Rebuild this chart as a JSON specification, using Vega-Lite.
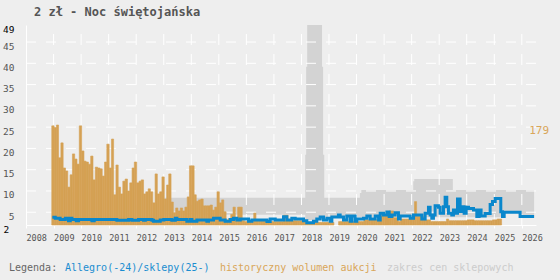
{
  "$schema": "https://vega.github.io/schema/vega-lite/v6.json",
  "width": 510,
  "height": 200,
  "autosize": {"type": "none"},
  "padding": {"left": 26, "top": 25, "right": 24, "bottom": 55},
  "background": "#eeeeee",
  "config": {"view": {"stroke": null}, "font": "DejaVu Sans Mono"},
  "title": {"text": "2 zł - Noc świętojańska", "anchor": "start", "frame": "group", "font": "DejaVu Sans Mono", "fontSize": 12, "fontWeight": "bold", "color": "#555555", "dx": 8, "offset": -4, "baseline": "alphabetic"},
  "resolve": {"axis": {"x": "independent", "y": "independent"}},
  "datasets": {
    "range": [
      {"d": "2012-12-10", "lo": 4.4, "hi": 8.4},
      {"d": "2018-02-20", "lo": 3.2, "hi": 18.5},
      {"d": "2018-03-04", "lo": 3.2, "hi": 39.2},
      {"d": "2018-03-18", "lo": 3.2, "hi": 49},
      {"d": "2018-10-01", "lo": 3.2, "hi": 39.2},
      {"d": "2018-10-15", "lo": 3.2, "hi": 18.5},
      {"d": "2018-10-30", "lo": 3.8, "hi": 8.4},
      {"d": "2020-02-15", "lo": 3.8, "hi": 9.5},
      {"d": "2020-03-05", "lo": 3.8, "hi": 10.2},
      {"d": "2022-01-22", "lo": 3.8, "hi": 12.3},
      {"d": "2022-02-05", "lo": 3.8, "hi": 12.8},
      {"d": "2023-07-01", "lo": 3.8, "hi": 10.2},
      {"d": "2025-03-28", "lo": 4.0, "hi": 10.2},
      {"d": "2025-05-12", "lo": 5.0, "hi": 10.2},
      {"d": "2025-12-09", "lo": 4.0, "hi": 10.2},
      {"d": "2026-06-13", "lo": 4.0, "hi": 10.2}
    ],
    "hgrid": [{"v": 5}, {"v": 10}, {"v": 15}, {"v": 20}, {"v": 25}, {"v": 30}, {"v": 35}, {"v": 40}, {"v": 45}],
    "vgrid": [{"d": "2009-01-01"}, {"d": "2010-01-01"}, {"d": "2011-01-01"}, {"d": "2012-01-01"}, {"d": "2013-01-01"}, {"d": "2014-01-01"}, {"d": "2015-01-01"}, {"d": "2016-01-01"}, {"d": "2017-01-01"}, {"d": "2018-01-01"}, {"d": "2019-01-01"}, {"d": "2020-01-01"}, {"d": "2021-01-01"}, {"d": "2022-01-01"}, {"d": "2023-01-01"}, {"d": "2024-01-01"}, {"d": "2025-01-01"}, {"d": "2026-01-01"}],
    "volume": [
      {"d": "2008-12-01", "v": 25.3}, {"d": "2009-01-01", "v": 24.9}, {"d": "2009-02-01", "v": 25.5}, {"d": "2009-03-01", "v": 17.8},
      {"d": "2009-04-01", "v": 21.3}, {"d": "2009-05-01", "v": 15.4}, {"d": "2009-06-01", "v": 14.7}, {"d": "2009-07-01", "v": 10.9},
      {"d": "2009-08-01", "v": 13.8}, {"d": "2009-09-01", "v": 18.7}, {"d": "2009-10-01", "v": 17.5}, {"d": "2009-11-01", "v": 16.3},
      {"d": "2009-12-01", "v": 25.3}, {"d": "2010-01-01", "v": 19.4}, {"d": "2010-02-01", "v": 17.0}, {"d": "2010-03-01", "v": 16.8},
      {"d": "2010-04-01", "v": 16.3}, {"d": "2010-05-01", "v": 18.2}, {"d": "2010-06-01", "v": 12.6}, {"d": "2010-07-01", "v": 15.6},
      {"d": "2010-08-01", "v": 15.4}, {"d": "2010-09-01", "v": 15.2}, {"d": "2010-10-01", "v": 13.5}, {"d": "2010-11-01", "v": 16.8},
      {"d": "2010-12-01", "v": 21.0}, {"d": "2011-01-01", "v": 15.4}, {"d": "2011-02-01", "v": 22.2}, {"d": "2011-03-01", "v": 9.1},
      {"d": "2011-04-01", "v": 16.1}, {"d": "2011-05-01", "v": 10.9}, {"d": "2011-06-01", "v": 9.3}, {"d": "2011-07-01", "v": 12.3},
      {"d": "2011-08-01", "v": 12.8}, {"d": "2011-09-01", "v": 10.0}, {"d": "2011-10-01", "v": 11.9}, {"d": "2011-11-01", "v": 15.4},
      {"d": "2011-12-01", "v": 16.8}, {"d": "2012-01-01", "v": 11.9}, {"d": "2012-02-01", "v": 12.3}, {"d": "2012-03-01", "v": 12.6},
      {"d": "2012-04-01", "v": 9.3}, {"d": "2012-05-01", "v": 9.8}, {"d": "2012-06-01", "v": 10.5}, {"d": "2012-07-01", "v": 9.8},
      {"d": "2012-08-01", "v": 7.2}, {"d": "2012-09-01", "v": 14.0}, {"d": "2012-10-01", "v": 9.3}, {"d": "2012-11-01", "v": 9.8},
      {"d": "2012-12-01", "v": 13.3}, {"d": "2013-01-01", "v": 8.1}, {"d": "2013-02-01", "v": 11.4}, {"d": "2013-03-01", "v": 14.0},
      {"d": "2013-04-01", "v": 7.4}, {"d": "2013-05-01", "v": 4.9}, {"d": "2013-06-01", "v": 6.0}, {"d": "2013-07-01", "v": 5.3},
      {"d": "2013-08-01", "v": 6.0}, {"d": "2013-09-01", "v": 5.3}, {"d": "2013-10-01", "v": 6.2}, {"d": "2013-11-01", "v": 8.6},
      {"d": "2013-12-01", "v": 15.9}, {"d": "2014-01-01", "v": 15.9}, {"d": "2014-02-01", "v": 9.1}, {"d": "2014-03-01", "v": 7.6},
      {"d": "2014-04-01", "v": 7.9}, {"d": "2014-05-01", "v": 8.1}, {"d": "2014-06-01", "v": 6.5}, {"d": "2014-07-01", "v": 6.5},
      {"d": "2014-08-01", "v": 6.5}, {"d": "2014-09-01", "v": 6.7}, {"d": "2014-10-01", "v": 5.5}, {"d": "2014-11-01", "v": 6.2},
      {"d": "2014-12-01", "v": 9.8}, {"d": "2015-01-01", "v": 7.2}, {"d": "2015-02-01", "v": 7.9}, {"d": "2015-03-01", "v": 5.1},
      {"d": "2015-04-01", "v": 3.2}, {"d": "2015-05-01", "v": 3.5}, {"d": "2015-06-01", "v": 4.5}, {"d": "2015-07-01", "v": 6.2},
      {"d": "2015-08-01", "v": 3.2}, {"d": "2015-09-01", "v": 6.2}, {"d": "2015-10-01", "v": 6.2}, {"d": "2015-11-01", "v": 3.0},
      {"d": "2015-12-01", "v": 2.8}, {"d": "2016-01-01", "v": 2.8}, {"d": "2016-02-01", "v": 2.8}, {"d": "2016-03-01", "v": 2.8},
      {"d": "2016-04-01", "v": 4.8}, {"d": "2016-05-01", "v": 3.0}, {"d": "2016-06-01", "v": 3.0}, {"d": "2016-07-01", "v": 3.0},
      {"d": "2016-08-01", "v": 3.0}, {"d": "2016-09-01", "v": 3.0}, {"d": "2016-10-01", "v": 2.8}, {"d": "2016-11-01", "v": 2.8},
      {"d": "2016-12-01", "v": 2.8}, {"d": "2017-01-01", "v": 2.8}, {"d": "2017-02-01", "v": 2.8}, {"d": "2017-03-01", "v": 2.8},
      {"d": "2017-04-01", "v": 2.8}, {"d": "2017-05-01", "v": 4.3}, {"d": "2017-06-01", "v": 4.3}, {"d": "2017-07-01", "v": 3.0},
      {"d": "2017-08-01", "v": 3.0}, {"d": "2017-09-01", "v": 3.0}, {"d": "2017-10-01", "v": 3.0}, {"d": "2017-11-01", "v": 3.0},
      {"d": "2017-12-01", "v": 3.0}, {"d": "2018-01-01", "v": 3.0}, {"d": "2018-02-01", "v": 3.0}, {"d": "2018-03-01", "v": 2.6},
      {"d": "2018-04-01", "v": 2.6}, {"d": "2018-05-01", "v": 2.6}, {"d": "2018-06-01", "v": 2.6}, {"d": "2018-07-01", "v": 2.6},
      {"d": "2018-08-01", "v": 2.6}, {"d": "2018-09-01", "v": 2.6}, {"d": "2018-10-01", "v": 2.6}, {"d": "2018-11-01", "v": 2.6},
      {"d": "2018-12-01", "v": 2.6}, {"d": "2019-01-01", "v": 2.6}, {"d": "2019-02-01", "v": 2.6},
      {"d": "2019-05-01", "v": 2.8}, {"d": "2019-06-01", "v": 2.8}, {"d": "2019-07-01", "v": 2.8}, {"d": "2019-08-01", "v": 2.8},
      {"d": "2019-09-01", "v": 2.8}, {"d": "2019-10-01", "v": 2.8}, {"d": "2019-11-01", "v": 2.8}, {"d": "2019-12-01", "v": 2.8},
      {"d": "2020-01-01", "v": 2.8}, {"d": "2020-02-01", "v": 2.8}, {"d": "2020-03-01", "v": 2.8}, {"d": "2020-04-01", "v": 3.2},
      {"d": "2020-05-01", "v": 3.2}, {"d": "2020-06-01", "v": 3.2}, {"d": "2020-07-01", "v": 3.2}, {"d": "2020-08-01", "v": 3.2},
      {"d": "2020-09-01", "v": 3.2}, {"d": "2020-10-01", "v": 3.2}, {"d": "2020-11-01", "v": 4.2}, {"d": "2020-12-01", "v": 4.2},
      {"d": "2021-01-01", "v": 4.2}, {"d": "2021-02-01", "v": 4.2}, {"d": "2021-03-01", "v": 5.3}, {"d": "2021-04-01", "v": 5.3},
      {"d": "2021-05-01", "v": 3.7}, {"d": "2021-06-01", "v": 3.7}, {"d": "2021-07-01", "v": 2.8}, {"d": "2021-08-01", "v": 3.4},
      {"d": "2021-09-01", "v": 3.4}, {"d": "2021-10-01", "v": 3.4}, {"d": "2021-11-01", "v": 3.4}, {"d": "2021-12-01", "v": 3.4},
      {"d": "2022-01-01", "v": 3.4}, {"d": "2022-02-01", "v": 7.5}, {"d": "2022-03-01", "v": 4.0}, {"d": "2022-04-01", "v": 4.0},
      {"d": "2022-05-01", "v": 4.0}, {"d": "2022-06-01", "v": 3.2}, {"d": "2022-07-01", "v": 3.2}, {"d": "2022-08-01", "v": 3.2},
      {"d": "2022-09-01", "v": 2.8}, {"d": "2022-10-01", "v": 2.8}, {"d": "2022-11-01", "v": 2.8}, {"d": "2022-12-01", "v": 2.8},
      {"d": "2023-01-01", "v": 2.8}, {"d": "2023-02-01", "v": 2.8}, {"d": "2023-03-01", "v": 2.8}, {"d": "2023-04-01", "v": 3.4},
      {"d": "2023-05-01", "v": 3.0}, {"d": "2023-06-01", "v": 3.0}, {"d": "2023-07-01", "v": 3.0}, {"d": "2023-08-01", "v": 3.0},
      {"d": "2023-09-01", "v": 3.0}, {"d": "2023-10-01", "v": 3.0}, {"d": "2023-11-01", "v": 3.0}, {"d": "2023-12-01", "v": 3.0},
      {"d": "2024-01-01", "v": 3.2}, {"d": "2024-02-01", "v": 3.2}, {"d": "2024-03-01", "v": 3.2}, {"d": "2024-04-01", "v": 3.0},
      {"d": "2024-05-01", "v": 3.0}, {"d": "2024-06-01", "v": 3.0}, {"d": "2024-07-01", "v": 3.0}, {"d": "2024-08-01", "v": 3.0},
      {"d": "2024-09-01", "v": 3.0}, {"d": "2024-10-01", "v": 3.0}, {"d": "2024-11-01", "v": 3.0}, {"d": "2024-12-01", "v": 3.2},
      {"d": "2025-01-01", "v": 3.2}, {"d": "2025-02-01", "v": 3.4}, {"d": "2025-03-01", "v": 3.4}
    ],
    "price": [
      {"d": "2008-12-15", "v": 3.8}, {"d": "2009-01-23", "v": 3.6}, {"d": "2009-03-29", "v": 3.3}, {"d": "2009-06-05", "v": 3.6},
      {"d": "2009-07-18", "v": 3.0}, {"d": "2009-08-10", "v": 3.6}, {"d": "2009-09-01", "v": 3.3}, {"d": "2009-10-28", "v": 3.0},
      {"d": "2009-11-28", "v": 3.3}, {"d": "2010-05-24", "v": 3.0}, {"d": "2010-06-24", "v": 3.3}, {"d": "2011-04-20", "v": 3.1},
      {"d": "2011-09-22", "v": 3.3}, {"d": "2011-11-05", "v": 3.1}, {"d": "2012-02-01", "v": 3.3}, {"d": "2012-04-08", "v": 3.1},
      {"d": "2012-05-01", "v": 3.3}, {"d": "2012-07-28", "v": 3.1}, {"d": "2012-08-19", "v": 2.9}, {"d": "2012-11-15", "v": 3.2},
      {"d": "2013-01-01", "v": 3.3}, {"d": "2013-04-18", "v": 3.1}, {"d": "2013-06-02", "v": 3.6}, {"d": "2013-06-24", "v": 3.3},
      {"d": "2013-11-03", "v": 2.9}, {"d": "2013-12-17", "v": 3.3}, {"d": "2014-01-09", "v": 2.9}, {"d": "2014-03-16", "v": 3.2},
      {"d": "2014-07-26", "v": 2.9}, {"d": "2014-08-17", "v": 3.2}, {"d": "2014-10-23", "v": 3.6}, {"d": "2015-01-19", "v": 3.2},
      {"d": "2015-03-26", "v": 2.9}, {"d": "2015-06-01", "v": 3.3}, {"d": "2015-07-15", "v": 3.6}, {"d": "2015-08-29", "v": 3.2},
      {"d": "2015-10-12", "v": 3.4}, {"d": "2016-01-30", "v": 2.9}, {"d": "2016-03-14", "v": 3.2}, {"d": "2016-09-30", "v": 2.8},
      {"d": "2016-11-12", "v": 3.4}, {"d": "2017-01-18", "v": 3.2}, {"d": "2017-05-08", "v": 3.95}, {"d": "2017-06-21", "v": 3.2},
      {"d": "2017-08-26", "v": 3.6}, {"d": "2017-10-10", "v": 3.4}, {"d": "2018-01-28", "v": 3.0}, {"d": "2018-03-13", "v": 2.55},
      {"d": "2018-06-09", "v": 2.9}, {"d": "2018-07-23", "v": 3.4}, {"d": "2018-09-06", "v": 3.9}, {"d": "2018-10-20", "v": 3.2},
      {"d": "2018-12-04", "v": 3.6}, {"d": "2019-01-17", "v": 2.9}, {"d": "2019-02-08", "v": 3.9}, {"d": "2019-05-06", "v": 4.35},
      {"d": "2019-05-29", "v": 3.9}, {"d": "2019-07-12", "v": 3.2}, {"d": "2019-08-25", "v": 4.1}, {"d": "2019-10-09", "v": 2.9},
      {"d": "2019-10-31", "v": 4.1}, {"d": "2019-12-14", "v": 2.9}, {"d": "2020-01-05", "v": 3.4}, {"d": "2020-04-03", "v": 3.6},
      {"d": "2020-05-17", "v": 4.1}, {"d": "2020-06-30", "v": 3.4}, {"d": "2020-09-05", "v": 4.1}, {"d": "2020-10-19", "v": 3.2},
      {"d": "2020-11-10", "v": 4.75}, {"d": "2020-12-24", "v": 4.35}, {"d": "2021-02-07", "v": 5.05}, {"d": "2021-03-09", "v": 4.0},
      {"d": "2021-04-13", "v": 4.35}, {"d": "2021-05-27", "v": 4.9}, {"d": "2021-07-10", "v": 3.4}, {"d": "2021-08-02", "v": 4.1},
      {"d": "2021-12-13", "v": 3.6}, {"d": "2022-01-26", "v": 4.35}, {"d": "2022-05-16", "v": 3.4}, {"d": "2022-06-29", "v": 4.75},
      {"d": "2022-08-12", "v": 6.15}, {"d": "2022-09-03", "v": 4.35}, {"d": "2022-09-25", "v": 3.6}, {"d": "2022-10-17", "v": 4.35},
      {"d": "2022-11-08", "v": 6.5}, {"d": "2022-12-22", "v": 6.15}, {"d": "2023-01-14", "v": 4.75}, {"d": "2023-02-27", "v": 6.3},
      {"d": "2023-03-21", "v": 8.5}, {"d": "2023-04-12", "v": 6.3}, {"d": "2023-05-04", "v": 4.75}, {"d": "2023-06-17", "v": 4.35},
      {"d": "2023-07-09", "v": 5.5}, {"d": "2023-07-31", "v": 4.75}, {"d": "2023-09-01", "v": 8.1}, {"d": "2023-10-06", "v": 5.2},
      {"d": "2023-10-28", "v": 6.3}, {"d": "2023-11-28", "v": 4.75}, {"d": "2023-12-25", "v": 6.15}, {"d": "2024-01-25", "v": 5.9},
      {"d": "2024-03-31", "v": 5.5}, {"d": "2024-05-14", "v": 4.0}, {"d": "2024-06-14", "v": 5.5}, {"d": "2024-07-10", "v": 4.1},
      {"d": "2024-09-02", "v": 4.7}, {"d": "2024-11-07", "v": 6.8}, {"d": "2024-12-08", "v": 7.5}, {"d": "2025-01-13", "v": 8.25},
      {"d": "2025-03-28", "v": 5.1}, {"d": "2025-04-20", "v": 4.0}, {"d": "2025-05-12", "v": 5.0}, {"d": "2025-12-09", "v": 4.0},
      {"d": "2026-06-13", "v": 4.0}
    ],
    "note": [{"d": "2026-04-08", "v": 25.6, "t": "179"}]
  },
  "layer": [
    {
      "data": {"name": "range"},
      "mark": {"type": "area", "interpolate": "step-after", "opacity": 1},
      "encoding": {
        "x": {
          "field": "d", "type": "temporal",
          "scale": {"type": "utc", "domain": [{"year": 2008, "month": 1, "date": 1, "utc": true}, {"year": 2026, "month": 7, "date": 8, "utc": true}]},
          "axis": {
            "title": null, "grid": false, "format": "%Y",
            "values": [{"year": 2008, "utc": true}, {"year": 2009, "utc": true}, {"year": 2010, "utc": true}, {"year": 2011, "utc": true}, {"year": 2012, "utc": true}, {"year": 2013, "utc": true}, {"year": 2014, "utc": true}, {"year": 2015, "utc": true}, {"year": 2016, "utc": true}, {"year": 2017, "utc": true}, {"year": 2018, "utc": true}, {"year": 2019, "utc": true}, {"year": 2020, "utc": true}, {"year": 2021, "utc": true}, {"year": 2022, "utc": true}, {"year": 2023, "utc": true}, {"year": 2024, "utc": true}, {"year": 2025, "utc": true}, {"year": 2026, "utc": true}],
            "labelAlign": "left", "labelFlush": false, "labelOverlap": false,
            "labelFont": "DejaVu Sans Mono", "labelFontSize": 8.5, "labelColor": "#555555",
            "labelPadding": 5, "labelBaseline": "top",
            "domainColor": "#ffffff", "domainWidth": 1, "tickColor": "#ffffff", "tickSize": 3, "tickWidth": 1
          }
        },
        "y": {
          "field": "hi", "type": "quantitative",
          "scale": {"domain": [2, 49], "zero": false, "nice": false},
          "axis": {
            "title": null, "grid": false, "ticks": false,
            "values": [2, 5, 10, 15, 20, 25, 30, 35, 40, 45, 49],
            "labelFont": "DejaVu Sans Mono", "labelFontSize": 9.5,
            "labelColor": {"condition": {"test": "datum.value == 2 || datum.value == 49", "value": "#000000"}, "value": "#555555"},
            "labelAlign": {"condition": {"test": "datum.value == 2", "value": "left"}, "value": "right"},
            "labelPadding": {"condition": {"test": "datum.value == 2", "value": 23}, "value": 12},
            "labelOffset": 4, "labelFlush": false, "labelOverlap": false,
            "domainColor": "#ffffff", "domainWidth": 1
          }
        },
        "y2": {"field": "lo"},
        "color": {
          "datum": "zakres cen sklepowych",
          "scale": {"domain": ["Allegro(-24)/sklepy(25-)", "historyczny wolumen aukcji", "zakres cen sklepowych"], "range": ["#0a87cc", "#d5a154", "#d3d3d3"]},
          "legend": {
            "orient": "none", "legendX": -17, "legendY": 238, "direction": "horizontal",
            "title": "Legenda:", "titleOrient": "left", "titleFont": "DejaVu Sans Mono", "titleFontSize": 10, "titleFontWeight": "normal", "titleColor": "#666666", "titlePadding": -3,
            "labelFont": "DejaVu Sans Mono", "labelFontSize": 10,
            "labelExpr": "datum.label == 'Allegro(-24)/sklepy(25-)' ? datum.label + ' ' : datum.label",
            "labelColor": {"expr": "datum.value === 'historyczny wolumen aukcji' ? '#d9a659' : datum.value === 'zakres cen sklepowych' ? '#cccccc' : '#1a8dd0'"},
            "symbolSize": 0, "symbolOpacity": 0, "symbolStrokeWidth": 0, "labelOffset": 0, "columnPadding": 0
          }
        }
      }
    },
    {
      "data": {"name": "hgrid"},
      "mark": {"type": "rule", "color": "#ffffff", "strokeWidth": 1, "strokeDash": [10, 10]},
      "encoding": {"y": {"field": "v", "type": "quantitative", "axis": null}}
    },
    {
      "data": {"name": "vgrid"},
      "mark": {"type": "rule", "color": "#ffffff", "strokeWidth": 1, "strokeDash": [11, 9]},
      "encoding": {"x": {"field": "d", "type": "temporal", "axis": null}, "y": {"datum": 2, "axis": null}, "y2": {"datum": 49}}
    },
    {
      "data": {"name": "volume"},
      "mark": {"type": "bar", "opacity": 1, "binSpacing": 0, "stroke": "#d5a154", "strokeWidth": 0.6},
      "encoding": {
        "x": {"field": "d", "type": "temporal", "timeUnit": "utcyearmonth", "axis": null},
        "y": {"field": "v", "type": "quantitative", "axis": null},
        "y2": {"datum": 2},
        "color": {"datum": "historyczny wolumen aukcji"}
      }
    },
    {
      "data": {"name": "price"},
      "mark": {"type": "line", "interpolate": "step-after", "strokeWidth": 3},
      "encoding": {
        "x": {"field": "d", "type": "temporal", "axis": null},
        "y": {"field": "v", "type": "quantitative", "axis": null},
        "color": {"datum": "Allegro(-24)/sklepy(25-)"}
      }
    },
    {
      "data": {"name": "note"},
      "mark": {"type": "text", "align": "left", "baseline": "top", "font": "DejaVu Sans Mono", "fontSize": 11, "color": "#d9a659"},
      "encoding": {
        "x": {"field": "d", "type": "temporal", "axis": null},
        "y": {"field": "v", "type": "quantitative", "axis": null},
        "text": {"field": "t"}
      }
    }
  ]
}
